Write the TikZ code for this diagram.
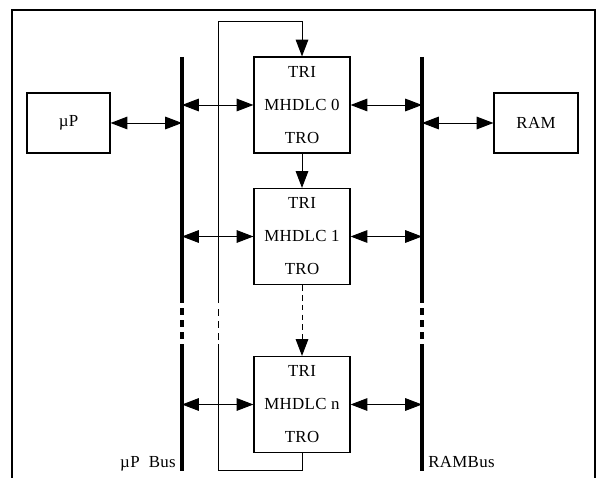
\documentclass[tikz,border=0pt]{standalone}
\usepackage{fontspec}
\setmainfont{Liberation Serif}
\usetikzlibrary{arrows.meta}

\begin{document}
\begin{tikzpicture}[x=0.025cm,y=-0.025cm,
    font=\fontsize{12}{14}\selectfont\addfontfeature{LetterSpace=2},
    head/.tip={Triangle[length=12pt,width=9pt]},
    frame/.style={line width=1.5pt},
    box/.style={draw,line width=0.8pt,inner sep=0pt},
    unit/.style={box,minimum width=2.4cm,minimum height=2.4cm,align=center,
      font=\fontsize{12}{23.5}\selectfont\addfontfeature{LetterSpace=2}},
    bus/.style={line width=2.2pt},
    busgap/.style={bus,dash pattern=on 5pt off 3.56pt},
    wire/.style={line width=0.7pt},
    wiregap/.style={wire,dash pattern=on 5pt off 3.56pt},
    link/.style={line width=0.7pt,{head}-{head}},
    flow/.style={line width=0.7pt,-{head}}]
  \useasboundingbox (0,0) rectangle (597,478);
  % outer frame, open at the bottom
  \draw[frame] (12,478) -- (12,10) -- (595,10) -- (595,478);
  \draw
    (68.5,123) node[box,minimum width=2.075cm,minimum height=1.5cm] (mp) {µP}
    (536,123) node[box,minimum width=2.1cm,minimum height=1.5cm] (ram) {RAM}
    (302,105) node[unit] (m0) {TRI\\MHDLC 0\\TRO}
    (302,236.5) node[unit] (m1) {TRI\\MHDLC 1\\TRO}
    (302,404.5) node[unit] (mn) {TRI\\MHDLC n\\TRO};
  \coordinate (pbus) at (182,57);
  \coordinate (rbus) at (422,57);
  \coordinate (looptop) at (302,21);
  % buses
  \draw[bus] (182,57) -- (182,303);
  \draw[busgap] (182,308) -- (182,340);
  \draw[bus] (182,344) -- (182,471);
  \draw[bus] (422,57) -- (422,303);
  \draw[busgap] (422,308) -- (422,340);
  \draw[bus] (422,344) -- (422,471);
  \node[anchor=base east,inner sep=0pt] (pblabel) at (176,467) {µP\ \ Bus};
  \node[anchor=base west,inner sep=0pt] (rblabel) at (428,467) {RAMBus};
  % feedback loop
  \draw[wire] (mn.south) |- (218,470) -- (218,344);
  \draw[wiregap] (218,340) -- (218,308);
  \draw[flow] (218,303) |- (looptop) -- (m0.north);
  % chain
  \draw[flow] (m0.south) -- (m1.north);
  \draw[flow,dash pattern=on 4pt off 3pt] (m1.south) -- (mn.north);
  % bus links
  \begin{scope}[link]
    \draw (mp.east) -- (mp.east -| pbus);
    \draw (ram.west) -- (ram.west -| rbus);
    \draw (m0.west -| pbus) -- (m0.west);
    \draw (m1.west -| pbus) -- (m1.west);
    \draw (mn.west -| pbus) -- (mn.west);
    \draw (m0.east) -- (m0.east -| rbus);
    \draw (m1.east) -- (m1.east -| rbus);
    \draw (mn.east) -- (mn.east -| rbus);
  \end{scope}
\end{tikzpicture}
\end{document}
